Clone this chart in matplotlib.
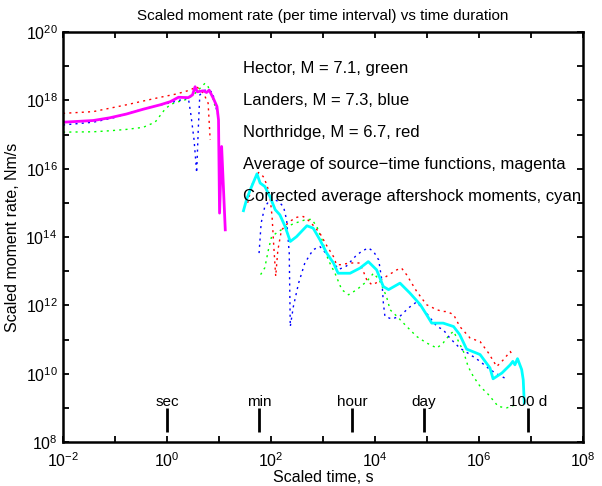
import matplotlib
matplotlib.use("Agg")
import matplotlib.pyplot as plt
import numpy as np

plt.rcParams['font.family'] = ['Liberation Sans', 'DejaVu Sans']
plt.rcParams['mathtext.fontset'] = 'custom'
plt.rcParams['mathtext.rm'] = 'Liberation Sans'
plt.rcParams['mathtext.it'] = 'Liberation Sans:italic'
plt.rcParams['mathtext.bf'] = 'Liberation Sans:bold'

# values, stored as log10(time, s) and log10(moment rate, Nm/s)
# --- source-time functions (early part) ---
hector_src_logt = [-2.0, -1.42, -1.10, -0.78, -0.46, -0.23, -0.17, -0.10, -0.04, 0.06, 0.15, 0.38, 0.51, 0.73, 0.79, 0.86, 0.93]
hector_src_logm = [17.07, 17.08, 17.11, 17.15, 17.21, 17.36, 17.48, 17.62, 17.74, 17.87, 17.93, 18.03, 18.16, 18.50, 18.40, 18.16, 17.8]

landers_src_logt = [-2.0, -1.42, -1.0, -0.46, 0.06, 0.41, 0.46, 0.52, 0.57, 0.60, 0.63, 0.73, 0.87, 0.92, 0.97]
landers_src_logm = [17.28, 17.36, 17.50, 17.75, 17.93, 18.07, 17.57, 16.84, 15.88, 17.13, 18.16, 18.30, 18.25, 17.95, 17.6]

northr_src_logt = [-2.0, -1.42, -1.10, -0.78, -0.46, -0.13, 0.19, 0.44, 0.57, 0.70, 0.79, 0.83]
northr_src_logm = [17.62, 17.67, 17.77, 17.87, 17.98, 18.09, 18.19, 18.30, 18.40, 18.21, 17.92, 16.84]

avg_src_logt = [-2.0, -1.42, -1.10, -0.78, -0.46, -0.13, 0.06, 0.22, 0.41, 0.49, 0.54, 0.58, 0.70, 0.76, 0.81, 0.89, 0.96, 0.99, 1.01, 1.05, 1.12]
avg_src_logm = [17.36, 17.41, 17.49, 17.60, 17.74, 17.87, 17.96, 18.09, 18.08, 18.16, 18.40, 18.25, 18.28, 18.23, 18.30, 18.06, 17.82, 17.43, 14.70, 16.65, 14.21]

# --- aftershock moments (late part) ---
hector_aft_logt = [1.80, 1.88, 1.95, 2.01, 2.14, 2.30, 2.45, 2.65, 2.78, 2.88, 2.98, 3.10, 3.23, 3.36, 3.49, 3.65, 3.84, 3.97, 4.08, 4.22, 4.29, 4.42, 4.61, 4.80, 4.99, 5.19, 5.31, 5.44, 5.51, 5.70, 5.79, 5.89, 6.02, 6.18, 6.37, 6.53, 6.63, 6.73]
hector_aft_logm = [12.9, 13.1, 13.63, 14.01, 14.16, 14.3, 14.4, 14.50, 14.52, 14.31, 13.92, 13.33, 12.94, 12.46, 12.31, 12.46, 12.70, 12.94, 12.75, 12.26, 11.87, 11.68, 11.38, 11.09, 10.90, 10.75, 10.90, 11.15, 11.24, 10.65, 10.21, 9.92, 9.63, 9.39, 9.04, 9.00, 9.04, 9.14]

landers_aft_logt = [1.77, 1.81, 1.88, 2.01, 2.14, 2.24, 2.30, 2.35, 2.37, 2.43, 2.53, 2.65, 2.81, 2.94, 3.10, 3.30, 3.45, 3.62, 3.74, 3.87, 3.97, 4.07, 4.13, 4.16, 4.19, 4.32, 4.48, 4.64, 4.80, 5.00, 5.19, 5.31, 5.44, 5.63, 5.83, 6.02, 6.21, 6.37, 6.56]
landers_aft_logm = [13.53, 14.41, 14.89, 15.14, 15.04, 14.89, 14.50, 13.53, 11.38, 11.97, 12.65, 13.24, 13.63, 13.72, 13.45, 13.05, 13.15, 13.43, 13.58, 13.68, 13.58, 13.33, 12.75, 12.07, 11.68, 11.60, 11.68, 11.92, 12.1, 11.75, 11.38, 11.29, 11.04, 10.75, 10.56, 10.36, 10.12, 9.97, 9.82]

northr_aft_logt = [1.55, 1.65, 1.76, 1.85, 1.92, 1.98, 2.02, 2.05, 2.09, 2.13, 2.20, 2.35, 2.50, 2.62, 2.75, 2.94, 3.07, 3.20, 3.26, 3.33, 3.52, 3.71, 3.84, 3.94, 4.08, 4.22, 4.42, 4.51, 4.61, 4.80, 4.99, 5.19, 5.31, 5.38, 5.51, 5.63, 5.83, 6.02, 6.18, 6.34, 6.47, 6.60, 6.66]
northr_aft_logm = [15.0, 15.6, 15.89, 15.77, 15.53, 15.18, 14.6, 13.8, 12.85, 13.6, 14.2, 14.45, 14.58, 14.60, 14.45, 14.11, 13.75, 13.43, 13.19, 13.19, 13.24, 13.24, 12.75, 12.60, 12.70, 12.85, 13.04, 13.09, 12.89, 12.41, 12.02, 11.87, 11.82, 11.82, 11.73, 11.38, 11.04, 10.94, 10.61, 10.21, 10.41, 10.65, 10.51]

avg_aft_logt = [1.47, 1.53, 1.60, 1.73, 1.79, 1.88, 1.98, 2.08, 2.17, 2.27, 2.37, 2.49, 2.69, 2.81, 2.94, 3.07, 3.20, 3.29, 3.52, 3.71, 3.87, 4.03, 4.16, 4.26, 4.48, 4.67, 4.87, 4.99, 5.09, 5.31, 5.51, 5.63, 5.76, 6.02, 6.21, 6.27, 6.44, 6.60, 6.65, 6.69, 6.74, 6.82, 6.85, 6.87]
avg_aft_logm = [14.77, 15.1, 15.38, 15.85, 15.58, 15.48, 15.18, 14.80, 14.65, 14.31, 13.87, 14.01, 14.33, 14.26, 13.92, 13.53, 13.24, 12.94, 12.94, 13.09, 13.28, 13.04, 12.55, 12.46, 12.65, 12.36, 12.02, 11.73, 11.48, 11.48, 11.38, 11.14, 10.72, 10.56, 10.17, 9.85, 10.02, 10.26, 10.36, 10.26, 10.44, 10.12, 9.82, 9.14]

# time markers
marker_names = ['sec', 'min', 'hour', 'day', '100 d']
marker_times = [1, 60, 3600, 86400, 8640000]

legend_lines = ['Hector, M = 7.1, green',
                'Landers, M = 7.3, blue',
                'Northridge, M = 6.7, red',
                'Average of source\u2212time functions, magenta',
                'Corrected average aftershock moments, cyan']

xtick_exp = [-2, 0, 2, 4, 6, 8]
ytick_exp = [8, 10, 12, 14, 16, 18, 20]


def p10(v):
    return np.power(10.0, np.array(v))


fig = plt.figure(figsize=(6.02, 4.86), dpi=100)
ax = fig.add_axes([0.1047, 0.0905, 0.8638, 0.8436])

dot = (0, (1.5, 3))
for t, m, c in [(hector_src_logt, hector_src_logm, '#00ff00'),
                (landers_src_logt, landers_src_logm, '#0000ff'),
                (northr_src_logt, northr_src_logm, '#ff0000'),
                (hector_aft_logt, hector_aft_logm, '#00ff00'),
                (landers_aft_logt, landers_aft_logm, '#0000ff'),
                (northr_aft_logt, northr_aft_logm, '#ff0000')]:
    ax.plot(p10(t), p10(m), color=c, linestyle=dot, lw=1.0)

ax.plot(p10(avg_src_logt), p10(avg_src_logm), color='#ff00ff', lw=2.0)
ax.plot(p10(avg_aft_logt), p10(avg_aft_logm), color='#00ffff', lw=2.0)

ax.set_xscale('log')
ax.set_yscale('log')
ax.set_xlim(1e-2, 1e8)
ax.set_ylim(1e8, 1e20)

# time marks at the bottom
ax.vlines(marker_times, 2e8, 1e9, color='k', lw=2)
for name, t in zip(marker_names, marker_times):
    ax.text(t, 1.15e9, name, ha='center', va='baseline', fontsize=11)

# legend written as text lines
for i, s in enumerate(legend_lines):
    ax.text(0.346, 0.912 - i * 0.0785, s, transform=ax.transAxes,
            ha='left', va='center', fontsize=12)

ax.set_xticks(p10(xtick_exp))
ax.set_xticklabels(['$\\mathregular{10^{%d}}$' % e for e in xtick_exp])
ax.set_xticks(p10([-1, 1, 3, 5, 7]), minor=True)
ax.set_yticks(p10(ytick_exp))
ax.set_yticklabels(['$\\mathregular{10^{%d}}$' % e for e in ytick_exp])
ax.set_yticks(p10([9, 11, 13, 15, 17, 19]), minor=True)
ax.xaxis.set_minor_formatter(matplotlib.ticker.NullFormatter())
ax.yaxis.set_minor_formatter(matplotlib.ticker.NullFormatter())
ax.tick_params(which='both', direction='in', top=True, right=True, length=4, width=1.3, labelsize=11.5)
ax.tick_params(axis='x', pad=7)
ax.tick_params(axis='y', pad=4)
for sp in ax.spines.values():
    sp.set_linewidth(1.8)

ax.set_xlabel('Scaled time, s', fontsize=11.5, labelpad=0)
ax.set_ylabel('Scaled moment rate, Nm/s', fontsize=11.5, labelpad=4)
ax.set_title('Scaled moment rate (per time interval) vs time duration', fontsize=11, pad=9)

fig.savefig('out.png', dpi=100)
